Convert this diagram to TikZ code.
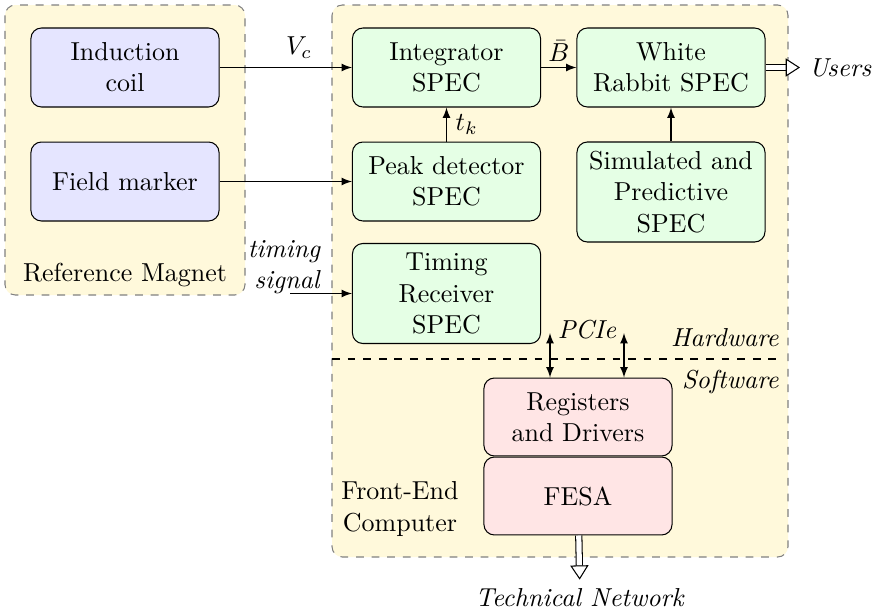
\documentclass[tikz,border=0pt]{standalone}
\usetikzlibrary{arrows.meta}

\definecolor{areabg}{RGB}{255,249,219}

\tikzset{
  block/.style={draw, rounded corners=4pt, align=center, minimum width=72.4pt, minimum height=30.4pt, inner sep=2pt},
  magblock/.style={block, fill=blue!10},
  specblock/.style={block, fill=green!10},
  swblock/.style={block, fill=red!10, minimum height=30pt},
  area/.style={draw=gray, dashed, fill=areabg, rounded corners=4pt},
  bigarrow/.style={double, double distance=2pt, -{Triangle[open, fill=white, length=5.5pt, width=7pt]}},
}

\begin{document}
\begin{tikzpicture}[x=0.385pt, y=-0.385pt, >=latex]
    \useasboundingbox (0,0) rectangle (877,613);
    % the two areas
    \draw[area] (5,5) rectangle (245,295);
    \draw[area] (332,5) rectangle (788,557);
    \draw[dashed] (332,359)--(780,359);
    % blocks
    \node[magblock] (coil) at (125,67.5) {Induction\\coil};
    \node[magblock] (marker) at (125,181.5) {Field marker};
    \node[specblock] (integ) at (446.5,67.5) {Integrator\\SPEC};
    \node[specblock] (peak) at (446.5,181.5) {Peak detector\\SPEC};
    \node[specblock, minimum height=38.5pt] (timing) at (446.5,293.5) {Timing\\Receiver\\SPEC};
    \node[specblock] (wr) at (671,67.5) {White\\Rabbit SPEC};
    \node[specblock, minimum height=38.5pt] (sim) at (671,192) {Simulated and\\Predictive\\SPEC};
    \node[swblock] (regs) at (578,417) {Registers\\and Drivers};
    \node[swblock] (fesa) at (578,496) {FESA};
    % texts
    \node (refmag) at (125,275) {Reference Magnet};
    \node[align=center] (fec) at (400,509) {Front-End\\Computer};
    \node[anchor=east] (hw) at (788,338) {\textit{Hardware}};
    \node[anchor=east] (sw) at (788,382) {\textit{Software}};
    \node[anchor=east, align=right] (tsig) at (330,267) {\textit{timing}\\\textit{signal}};
    \node[anchor=west] (users) at (800,67.5) {\textit{Users}};
    \node (technet) at (580,598) {\textit{Technical Network}};
    \node (pcie) at (587,330) {\textit{PCIe}};
    % signals
    \draw[->] (coil)--node[above, pos=0.6]{$V_c$}(integ);
    \draw[->] (marker)--(peak);
    \draw[->] (integ)--node[above, inner sep=2pt]{$\bar{B}$}(wr);
    \draw[->] (peak)--node[right]{$t_k$}(integ);
    \draw[->] (sim)--(wr);
    \coordinate (tin) at (290,293.5);
    \draw[->] (tin)--(timing);
    \coordinate (pcA) at (550,333);
    \coordinate (pcB) at (624,333);
    \draw[<->] (pcA)--(pcA |- regs.north);
    \draw[<->] (pcB)--(pcB |- regs.north);
    \draw[bigarrow] (wr)--(users);
    \draw[bigarrow] (fesa)--(technet);
\end{tikzpicture}
\end{document}
